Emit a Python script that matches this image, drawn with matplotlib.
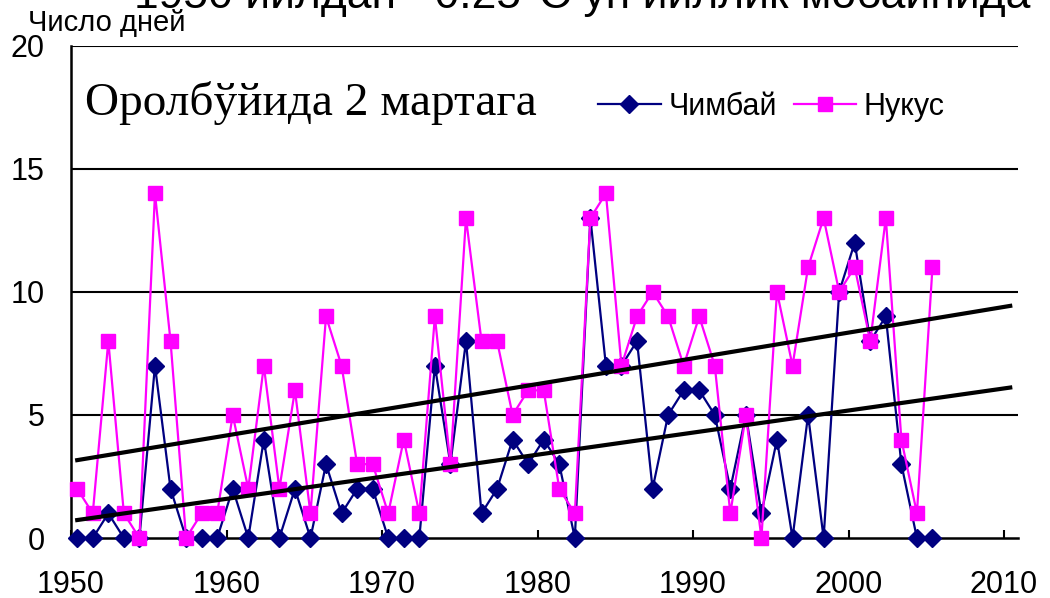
import numpy as np
import matplotlib
matplotlib.use('Agg')
import matplotlib.pyplot as plt

plt.rcParams['font.family'] = ['Liberation Sans', 'DejaVu Sans']

years = np.arange(1950, 2006)
chimbay = [0, 0, 1, 0, 0, 7, 2, 0, 0, 0,
           2, 0, 4, 0, 2, 0, 3, 1, 2, 2,
           0, 0, 0, 7, 3, 8, 1, 2, 4, 3,
           4, 3, 0, 13, 7, 7, 8, 2, 5, 6,
           6, 5, 2, 5, 1, 4, 0, 5, 0, 10,
           12, 8, 9, 3, 0, 0]
nukus = [2, 1, 8, 1, 0, 14, 8, 0, 1, 1,
         5, 2, 7, 2, 6, 1, 9, 7, 3, 3,
         1, 4, 1, 9, 3, 13, 8, 8, 5, 6,
         6, 2, 1, 13, 14, 7, 9, 10, 9, 7,
         9, 7, 1, 5, 0, 10, 7, 11, 13, 10,
         11, 8, 13, 4, 1, 11]
xticks = [1950, 1960, 1970, 1980, 1990, 2000, 2010]
yticks = [0, 5, 10, 15, 20]

navy = '#000080'
magenta = '#FF00FF'

# points sit a bit to the right of the year tick (mid-year)
x = years + 0.4
xt = np.array([x[0], x[-1] + 5])

fig = plt.figure(figsize=(10.5, 5.98), dpi=100)
ax = fig.add_axes([71/1050, 1 - 538/598, (1018 - 71)/1050, (538 - 45.7)/598])

for v in yticks[1:]:
    ax.axhline(v, color='black', linewidth=1.5, zorder=1)

ax.plot(x, chimbay, color=navy, linewidth=1.6, marker='D', markersize=9.5,
        label='Чимбай', zorder=3, clip_on=False)
ax.plot(x, nukus, color=magenta, linewidth=1.6, marker='s', markersize=10,
        label='Нукус', zorder=4, clip_on=False)

for vals in (chimbay, nukus):
    k, b = np.polyfit(years, vals, 1)
    ax.plot(xt, k * (xt - 0.4) + b, color='black', linewidth=3, zorder=5)

ax.set_xlim(1950, 2010.9)
ax.set_ylim(0, 20)
ax.set_xticks(xticks)
ax.set_yticks(yticks)
ax.tick_params(axis='x', direction='in', length=6, width=1.5, labelsize=22, pad=23)
ax.tick_params(axis='y', length=0, labelsize=22, pad=19)
for s in ['top', 'right']:
    ax.spines[s].set_visible(False)
for s in ['left', 'bottom']:
    ax.spines[s].set_linewidth(1.8)

leg = fig.legend(loc='center left', bbox_to_anchor=(598/1050, 1 - 107/598),
                 ncol=2, frameon=False, fontsize=22, handlelength=2.05,
                 handletextpad=0.25, columnspacing=0.55, borderpad=0,
                 borderaxespad=0)

fig.text(85/1050, 1 - 115/598, 'Оролбўйида 2 мартага', fontsize=34,
         family='Liberation Serif', ha='left', va='baseline')
fig.text(28/1050, 1 - 31/598, 'Число дней', fontsize=21, ha='left', va='baseline')
fig.text(582/1050, 1 - 8/598, '1950 йилдан ~0.25°С ун йиллик мобайнида',
         fontsize=32, ha='center', va='baseline')

fig.savefig('out.png', dpi=100)
